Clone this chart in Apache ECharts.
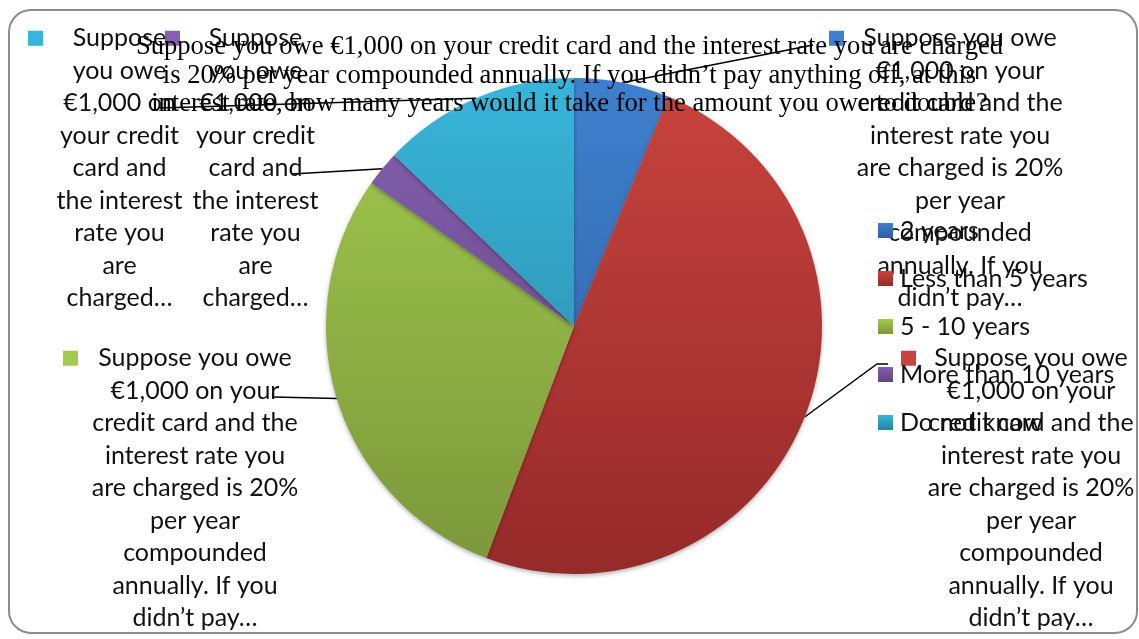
<!DOCTYPE html>
<html>
<head>
<meta charset="utf-8">
<script src="https://cdn.jsdelivr.net/npm/echarts@6/dist/echarts.min.js"></script>
<style>
  html, body { margin: 0; padding: 0; background: #ffffff; }
  #chart { width: 1139px; height: 639px; }
</style>
</head>
<body>
<div id="chart"></div>
<script>
// Survey question (series name) and its answer shares, in percent
const questionText = 'Suppose you owe €1,000 on your credit card and the interest rate you are charged is 20% per year compounded annually. If you didn’t pay anything off, at this interest rate, how many years would it take for the amount you owe to double?';
const titleLines = [
  'Suppose you owe €1,000 on your credit card and the interest rate you are charged',
  'is 20% per year compounded annually. If you didn’t pay anything off, at this',
  'interest rate, how many years would it take for the amount you owe to double?'
];
const categories = ['2 years', 'Less than 5 years', '5 - 10 years', 'More than 10 years', 'Do not know'];
const shares = [6.2, 49.5, 29.0, 2.3, 12.9];

// Series-name data labels, wrapped (and cut short) the way the sheet wraps them
const wideLabelLines = ['Suppose you owe', '€1,000 on your', 'credit card and the', 'interest rate you',
  'are charged is 20%', 'per year', 'compounded', 'annually. If you', 'didn’t pay…'];
const narrowLabelLines = ['Suppose', 'you owe', '€1,000 on', 'your credit', 'card and',
  'the interest', 'rate you', 'are', 'charged…'];

// Top / bottom colours of each slice's vertical gradient
const sliceColors = [
  ['#3E80CE', '#2F5F9F'],
  ['#C9433E', '#952A29'],
  ['#A3CA4F', '#7A973A'],
  ['#8460AD', '#5F4383'],
  ['#38B5DA', '#27849F']
];

const PIE_CX = 574, PIE_CY = 326, PIE_R = 248;
const LABEL_FONT = 'Lato, "Open Sans", sans-serif';
const LABEL_SIZE = 25;
const LABEL_LH = 32.5;
const KEY_COL = 29;   // width of the colour-key column on the left of each data label

// Where each data label box sits, and where its leader line bends
const labelBoxes = [
  { left: 829, top: 22,  width: 233, wrap: 'wide',   bend: [[813, 45]] },
  { left: 901, top: 342, width: 231, wrap: 'wide',   bend: [[877, 364], [888, 364]] },
  { left: 63,  top: 342, width: 235, wrap: 'wide',   bend: [[274, 397]] },
  { left: 165, top: 22,  width: 152, wrap: 'narrow', bend: [[292, 174]] },
  { left: 28,  top: 22,  width: 154, wrap: 'narrow', bend: [[160, 108]] }
];

function pieGradient(i) {
  return {
    type: 'linear', global: true,
    x: 0, y: PIE_CY - PIE_R, x2: 0, y2: PIE_CY + PIE_R,
    colorStops: [
      { offset: 0, color: sliceColors[i][0] },
      { offset: 1, color: sliceColors[i][1] }
    ]
  };
}

function keyGradient(i) {
  return {
    type: 'linear', x: 0, y: 0, x2: 0, y2: 1,
    colorStops: [
      { offset: 0, color: sliceColors[i][0] },
      { offset: 1, color: sliceColors[i][1] }
    ]
  };
}

function itemLabel(i) {
  const box = labelBoxes[i];
  return {
    width: box.width,
    rich: {
      sq:  { width: 15, height: 15, backgroundColor: sliceColors[i][0], align: 'left', lineHeight: LABEL_LH },
      gap: { width: KEY_COL - 15, align: 'left', lineHeight: LABEL_LH },
      pad: { width: KEY_COL, align: 'left', lineHeight: LABEL_LH },
      t:   { align: 'center', fontFamily: LABEL_FONT, fontSize: LABEL_SIZE, color: '#111111', lineHeight: LABEL_LH }
    }
  };
}

const chart = echarts.init(document.getElementById('chart'), null, { renderer: 'canvas' });

chart.setOption({
  animation: false,
  backgroundColor: '#ffffff',
  graphic: [{
    type: 'rect', z: -10, silent: true,
    shape: { x: 9, y: 10, width: 1128, height: 623, r: 22 },
    style: { fill: '#ffffff', stroke: '#8c8c8c', lineWidth: 2 }
  }],
  title: {
    text: titleLines.join('\n'),
    left: 'center',
    top: 33,
    padding: [0, 0, 0, 7],
    textStyle: {
      fontFamily: '"Liberation Serif", "Times New Roman", serif',
      fontSize: 26.6,
      fontWeight: 'normal',
      color: '#000000',
      lineHeight: 28.5
    }
  },
  legend: {
    orient: 'vertical',
    left: 878,
    top: 218,
    padding: 0,
    itemWidth: 15,
    itemHeight: 15,
    itemGap: 23,
    icon: 'rect',
    selectedMode: false,
    textStyle: { fontFamily: LABEL_FONT, fontSize: LABEL_SIZE, color: '#111111', lineHeight: 15, padding: [0, 0, 0, 2] },
    data: categories.map((c, i) => ({ name: c, itemStyle: { color: keyGradient(i) } }))
  },
  series: [{
    type: 'pie',
    name: questionText,
    center: [PIE_CX, PIE_CY],
    radius: PIE_R,
    startAngle: 90,
    clockwise: true,
    avoidLabelOverlap: false,
    emphasis: { disabled: true },
    itemStyle: {
      shadowBlur: 4,
      shadowOffsetY: 2,
      shadowColor: 'rgba(0,0,0,0.3)'
    },
    label: {
      show: true,
      position: 'outside',
      alignTo: 'none',
      overflow: 'none',
      fontFamily: LABEL_FONT,
      fontSize: LABEL_SIZE,
      color: '#111111',
      lineHeight: LABEL_LH,
      formatter: function (p) {
        const lines = labelBoxes[p.dataIndex].wrap === 'wide' ? wideLabelLines : narrowLabelLines;
        return lines.map((ln, k) => (k === 0 ? '{sq|}{gap|}' : '{pad|}') + '{t|' + ln + '}').join('\n');
      }
    },
    labelLine: {
      show: true,
      length: 10,
      length2: 10,
      lineStyle: { color: '#000000', width: 1.5 }
    },
    labelLayout: function (p) {
      const box = labelBoxes[p.dataIndex];
      const out = { x: box.left, y: box.top, align: 'left', verticalAlign: 'top' };
      if (p.labelLinePoints && p.labelLinePoints.length) {
        out.labelLinePoints = [p.labelLinePoints[0]].concat(box.bend);
      }
      return out;
    },
    data: categories.map((c, i) => ({
      name: c,
      value: shares[i],
      itemStyle: { color: pieGradient(i) },
      label: itemLabel(i)
    }))
  }]
});
</script>
</body>
</html>
